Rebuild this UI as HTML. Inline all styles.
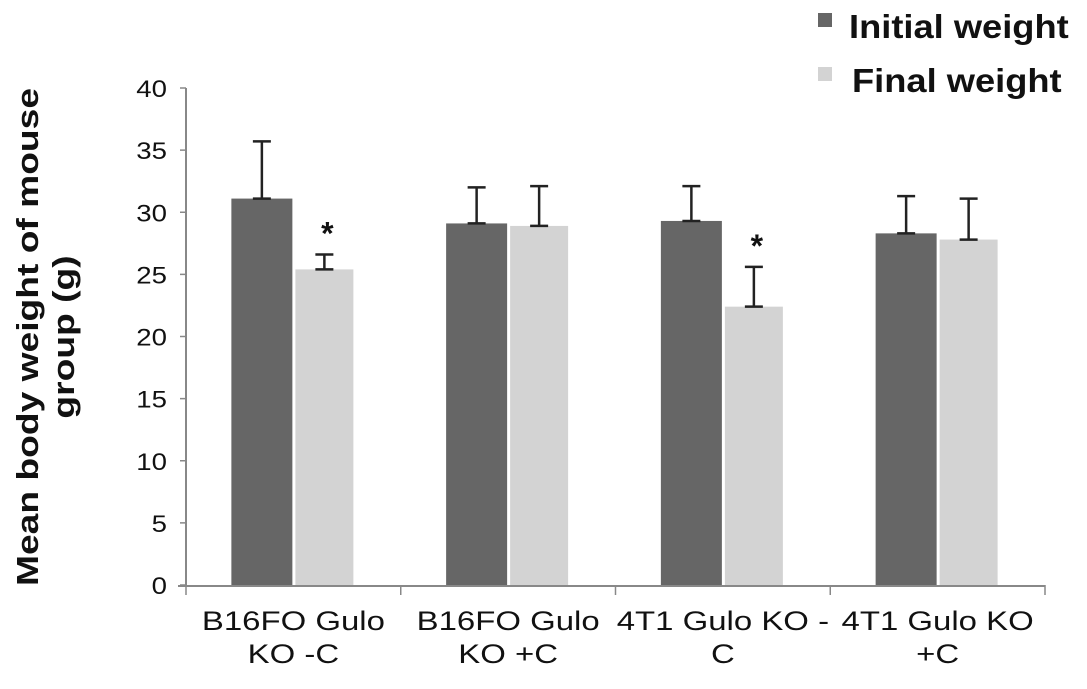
<!DOCTYPE html>
<html><head><meta charset="utf-8"><style>
html,body{margin:0;padding:0;background:#fff;}
svg{display:block;font-family:"Liberation Sans",Arial,sans-serif;}
</style></head><body>
<svg id="chart" width="1087" height="689">
<rect x="818" y="13" width="14" height="14" fill="#666"/>
<text transform="translate(849,38) scale(1.1,1)" font-size="33" font-weight="bold" fill="#111">Initial weight</text>
<rect x="818" y="67" width="14" height="14" fill="#d3d3d3"/>
<text transform="translate(852,92) scale(1.1,1)" font-size="33" font-weight="bold" fill="#111">Final weight</text>
<text transform="translate(46,337) rotate(-90) scale(1.2,1)" text-anchor="middle" font-size="31" font-weight="bold" fill="#111"><tspan x="0" dy="-8">Mean body weight of mouse</tspan><tspan x="0" dy="36">group (g)</tspan></text>
<g id="plot"></g>
</svg>
<script>
const categories = [["B16FO Gulo","KO -C"],["B16FO Gulo","KO +C"],["4T1 Gulo KO -","C"],["4T1 Gulo KO","+C"]];
const initialValues = [31.1, 29.1, 29.3, 28.3];
const finalValues = [25.4, 28.9, 22.4, 27.8];
const initialErr = [4.6, 2.9, 2.8, 3.0];
const finalErr = [1.2, 3.2, 3.2, 3.3];
const significant = [false, true, false, false, false, true, false, false];
const yTicks = [0,5,10,15,20,25,30,35,40];

const NS = "http://www.w3.org/2000/svg";
const g = document.getElementById('plot');
const x0 = 186, x1 = 1045, yBase = 585, yTop = 88, yMax = 40;
const y = v => yBase - (v / yMax) * (yBase - yTop);
const catW = (x1 - x0) / categories.length;
function el(tag, attrs){const e=document.createElementNS(NS,tag);for(const k in attrs)e.setAttribute(k,attrs[k]);g.appendChild(e);return e;}

let a = el('line',{x1:x0,y1:yTop,x2:x0,y2:yBase+1,stroke:'#888','stroke-width':2});


yTicks.forEach(t=>{
  const l = el('line',{x1:x0-6,y1:y(t),x2:x0,y2:y(t),stroke:'#888','stroke-width':1.5});
  
  
  const tx = el('text',{transform:'translate('+(x0-19)+','+(y(t)+9)+') scale(1.15,1)','text-anchor':'end','font-size':24,fill:'#111'});
  tx.textContent = t;
  
  
});
a = el('line',{x1:x0-8,y1:yBase+1,x2:x1,y2:yBase+1,stroke:'#888','stroke-width':2});


for(let i=0;i<=categories.length;i++){
  const t = el('line',{x1:x0+i*catW,y1:yBase,x2:x0+i*catW,y2:yBase+10,stroke:'#888','stroke-width':1.5});
  
  
}
const bw = 61;
categories.forEach((c,i)=>{
  const cx = x0 + i*catW + catW/2;
  [[initialValues,initialErr,'#666',cx-bw-1], [finalValues,finalErr,'#d3d3d3',cx+2]].forEach(([vals,errs,col,bx],s)=>{
    const v = vals[i];
    const w = bw-(s?3:0);
    const r = el('rect',{x:bx,y:y(v),width:w,height:yBase-y(v),fill:col});
    
    
    const ex = bx + w/2;
    const top = y(v+errs[i]);
    const e1 = el('line',{x1:ex,y1:y(v),x2:ex,y2:top,stroke:'#222','stroke-width':2.5});
    
    
    const e2 = el('line',{x1:ex-9,y1:top,x2:ex+9,y2:top,stroke:'#222','stroke-width':2.5});
    
    
    const e3 = el('line',{x1:ex-9,y1:y(v),x2:ex+9,y2:y(v),stroke:'#222','stroke-width':2.5});
    
    
    if(significant[i*2+s]){
      const st = el('text',{x:ex+3,y:top-10,'text-anchor':'middle','font-size':32,'font-weight':'bold',fill:'#111'});
      st.textContent='*';
      
      
    }
  });
  c.forEach((line,k)=>{
    const t = el('text',{transform:'translate('+cx+','+(630+k*33)+') scale(1.22,1)','text-anchor':'middle','font-size':27,fill:'#111'});
    t.textContent=line;
    
    
  });
});
</script>
</body></html>
